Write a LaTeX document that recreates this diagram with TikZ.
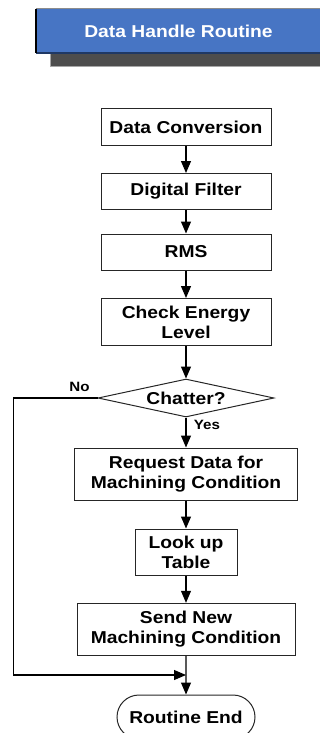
\documentclass[tikz,border=0pt]{standalone}
\usepackage{fontspec}
\setmainfont{Liberation Sans}[FakeStretch=1.12]
\usetikzlibrary{arrows.meta,shapes.geometric,shapes.misc,shadows}
\definecolor{hdrblue}{RGB}{71,117,196}
\definecolor{hdrshadow}{RGB}{77,77,77}
\definecolor{hdrnavy}{RGB}{31,56,100}
\newcommand\boxfont{\bfseries\fontsize{17.2}{20}\selectfont}
\newcommand\lblfont{\bfseries\fontsize{13.5}{16}\selectfont}
\begin{document}
\begin{tikzpicture}[x=1pt,y=-1pt,
  proc/.style={draw=black!85, line width=1pt, fill=white, minimum height=36pt,
    inner sep=0pt, align=center, font=\boxfont},
  decide/.style={draw=black!85, line width=1pt, shape=diamond, aspect=4.6,
    minimum width=176pt, minimum height=38pt, inner sep=0pt, font=\boxfont},
  endbox/.style={draw=black!85, line width=1pt, rounded rectangle,
    minimum width=138pt, minimum height=44pt, inner sep=0pt, font=\boxfont},
  lbl/.style={inner sep=0pt, font=\lblfont},
  arr/.style={draw=black, line width=1.1pt, -{Triangle[length=12pt,width=10pt]}}]
\useasboundingbox (0,0) rectangle (320,733);
\clip (0,0) rectangle (320,733);

% title banner with its drop shadow
\node[fill=hdrblue, minimum width=285pt, minimum height=44pt, inner sep=0pt,
  text=white, font=\boxfont,
  drop shadow={shadow xshift=14pt, shadow yshift=-13pt, opacity=1,
    fill=hdrshadow, draw=black!35, line width=.8pt}]
  (hdr) at (178.5,31) {Data Handle Routine};
\draw[black!45, line width=1pt] (hdr.north west) -- (hdr.north east);
\draw[hdrnavy, line width=1.5pt] (hdr.south west) -- (hdr.south east);
\draw[black, line width=1.5pt] (hdr.north west) -- (hdr.south west);

% process steps
\node[proc, minimum width=170pt] (b1) at (186,127) {Data Conversion};
\node[proc, minimum width=170pt] (b2) at (186,191.5) {Digital Filter};
\node[proc, minimum width=170pt] (b3) at (186,252) {RMS};
\node[proc, minimum width=170pt, minimum height=47pt] (b4) at (186,322) {Check Energy\\Level};
\node[decide] (dia) at (186,398) {Chatter?};
\node[proc, minimum width=223pt, minimum height=52pt] (b5) at (186,474) {Request Data for\\Machining Condition};
\node[proc, minimum width=102pt, minimum height=46pt] (b6) at (186,552) {Look up\\Table};
\node[proc, minimum width=218pt, minimum height=52pt] (b7) at (186,629.3) {Send New\\Machining Condition};
\node[endbox] (term) at (186,717) {Routine End};

% branch labels
\node[lbl] (no) at (79.5,387) {No};
\node[lbl] (yes) at (207,425) {Yes};

% connectors
\coordinate (lc) at (13.5,675);
\coordinate (jn) at (186,675);
\draw[arr] (b1) -- (b2);
\draw[arr] (b2) -- (b3);
\draw[arr] (b3) -- (b4);
\draw[arr] (b4) -- (dia);
\draw[arr] (dia) -- (b5);
\draw[arr] (b5) -- (b6);
\draw[arr] (b6) -- (b7);
\draw[arr] (b7) -- (term);
\draw[arr] (dia.west) -| (lc) -- (jn);
\end{tikzpicture}
\end{document}
